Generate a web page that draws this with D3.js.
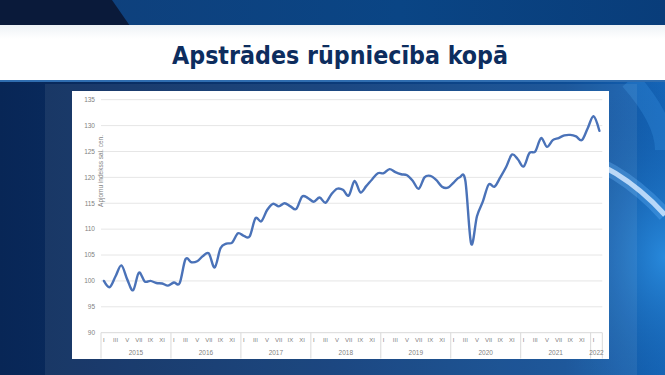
<!DOCTYPE html>
<html><head><meta charset="utf-8">
<script src="https://cdn.jsdelivr.net/npm/d3@7"></script>
<style>html,body{margin:0;padding:0;background:#0a2f66;}svg{display:block;}</style>
</head><body>
<svg id="c" width="665" height="375"></svg>
<script>
const title = "Apstrādes rūpniecība kopā";
const yAxisTitle = "Apjomu indekss sal. cen.";
const years = ["2015","2016","2017","2018","2019","2020","2021","2022"];
const monthNames = ["I","II","III","IV","V","VI","VII","VIII","IX","X","XI","XII"];
const yTicks = [90,95,100,105,110,115,120,125,130,135];
const values = [
  100.0, 98.8, 100.9, 103.0, 100.3, 98.2, 101.6, 99.9, 100.0, 99.6, 99.5, 99.1,
  99.7, 99.6, 104.2, 103.6, 103.8, 104.8, 105.3, 102.6, 106.3, 107.2, 107.4, 109.2,
  108.7, 108.6, 112.1, 111.5, 113.7, 114.9, 114.4, 115.0, 114.4, 113.9, 116.3, 116.0,
  115.3, 116.1, 115.1, 116.7, 117.8, 117.6, 116.5, 119.3, 117.1, 118.3, 119.6, 120.8,
  120.8, 121.6, 121.0, 120.6, 120.4, 119.3, 117.8, 120.0, 120.3, 119.5, 118.2, 118.0,
  119.0, 120.0, 119.4, 107.2, 112.5, 115.3, 118.6, 118.2, 120.0, 122.0, 124.4, 123.5,
  122.1, 124.7, 125.0, 127.6, 125.9, 127.2, 127.6, 128.1, 128.2, 127.9, 127.2, 129.5,
  131.8, 129.0
];

const svg = d3.select("#c");
const defs = svg.append("defs");

// ---------- background ----------
const bgGrad = defs.append("linearGradient").attr("id","bg").attr("x1",0).attr("x2",1).attr("y1",0).attr("y2",0);
bgGrad.append("stop").attr("offset","0%").attr("stop-color","#082656");
bgGrad.append("stop").attr("offset","50%").attr("stop-color","#0b3a78");
bgGrad.append("stop").attr("offset","85%").attr("stop-color","#0d4c94");
bgGrad.append("stop").attr("offset","100%").attr("stop-color","#1565b8");
svg.append("rect").attr("width",665).attr("height",375).attr("fill","url(#bg)");

// top strip
const topGrad = defs.append("linearGradient").attr("id","topg").attr("x1",0).attr("x2",1).attr("y1",0).attr("y2",0);
topGrad.append("stop").attr("offset","0%").attr("stop-color","#103f7a");
topGrad.append("stop").attr("offset","60%").attr("stop-color","#0a4585");
topGrad.append("stop").attr("offset","100%").attr("stop-color","#093d7a");
svg.append("rect").attr("x",0).attr("y",0).attr("width",665).attr("height",26).attr("fill","url(#topg)");
svg.append("path").attr("d","M0,0 L112,0 L130,26 L0,26 Z").attr("fill","#0a1a3a");

// right glow + arc
const glowGrad = defs.append("radialGradient").attr("id","glow").attr("cx","100%").attr("cy","60%").attr("r","60%");
glowGrad.append("stop").attr("offset","0%").attr("stop-color","#2a8de0").attr("stop-opacity",0.9);
glowGrad.append("stop").attr("offset","100%").attr("stop-color","#0d4c94").attr("stop-opacity",0);
svg.append("rect").attr("x",450).attr("y",80).attr("width",215).attr("height",295).attr("fill","url(#glow)");
svg.append("path").attr("d","M560,150 Q620,165 665,215").attr("fill","none")
  .attr("stroke","#5fb0f5").attr("stroke-width",14).attr("opacity",0.35);
svg.append("path").attr("d","M560,150 Q620,165 665,215").attr("fill","none")
  .attr("stroke","#cfe6ff").attr("stroke-width",5).attr("opacity",0.85);
svg.append("path").attr("d","M630,80 Q665,120 665,150").attr("fill","none")
  .attr("stroke","#2f86d6").attr("stroke-width",20).attr("opacity",0.4);

// frame behind panel
svg.append("rect").attr("x",45).attr("y",84).attr("width",592).attr("height",291)
  .attr("fill","#ffffff").attr("opacity",0.07);

// title band
const bandGrad = defs.append("linearGradient").attr("id","band").attr("x1",0).attr("x2",0).attr("y1",0).attr("y2",1);
bandGrad.append("stop").attr("offset","0%").attr("stop-color","#eef2f6");
bandGrad.append("stop").attr("offset","25%").attr("stop-color","#ffffff");
bandGrad.append("stop").attr("offset","100%").attr("stop-color","#ffffff");
svg.append("rect").attr("x",0).attr("y",25).attr("width",665).attr("height",55).attr("fill","url(#band)");
svg.append("rect").attr("x",0).attr("y",80).attr("width",665).attr("height",2).attr("fill","#2f6db0");

svg.append("text").attr("x",340).attr("y",64).attr("text-anchor","middle")
  .attr("font-family","'DejaVu Sans Condensed','DejaVu Sans',sans-serif").attr("font-weight","bold")
  .attr("font-size",25).attr("fill","#0d2d5e")
  .attr("textLength",336).attr("lengthAdjust","spacingAndGlyphs")
  .text(title);

// ---------- chart panel ----------
svg.append("rect").attr("x",72).attr("y",91).attr("width",537).attr("height",268).attr("fill","#ffffff");

const x = d3.scaleBand().domain(d3.range(values.length)).range([101,602.3]).padding(0);
const y = d3.scaleLinear().domain([90,135]).range([332.7,99.7]);
const cx = i => x(i) + x.bandwidth()/2;

const g = svg.append("g");
// gridlines
g.selectAll("line.grid").data(yTicks).join("line")
  .attr("x1",101).attr("x2",602.3)
  .attr("y1",d=>y(d)).attr("y2",d=>y(d))
  .attr("stroke",d=>d===90?"#d9d9d9":"#e6e6e6").attr("stroke-width",1);

// y tick labels
g.selectAll("text.yt").data(yTicks).join("text")
  .attr("x",95).attr("y",d=>y(d)).attr("dy","0.35em").attr("text-anchor","end")
  .attr("font-family","'Liberation Sans',Arial,sans-serif").attr("font-size",6.5)
  .attr("fill","#7f7f7f").text(d=>d);

// y axis title
g.append("text").attr("transform",`translate(103,171) rotate(-90)`)
  .attr("text-anchor","middle")
  .attr("font-family","'Liberation Sans',Arial,sans-serif").attr("font-size",6.5)
  .attr("fill","#7f7f7f").text(yAxisTitle);

// x axis: month labels
const axisY = y(90);
g.selectAll("text.mt").data(values.map((v,i)=>i).filter(i=>i%12%2===0)).join("text")
  .attr("x",i=>cx(i)).attr("y",axisY+9.5).attr("text-anchor","middle")
  .attr("font-family","'Liberation Sans',Arial,sans-serif").attr("font-size",6)
  .attr("fill","#7f7f7f").text(i=>monthNames[i%12]);

// year separators and labels
const yearStarts = years.map((yr,k)=>k*12);
const sepX = yearStarts.map(i=>x(i)).concat([x.range()[1]]);
g.selectAll("line.sep").data(sepX).join("line")
  .attr("x1",d=>d).attr("x2",d=>d).attr("y1",axisY).attr("y2",358.5)
  .attr("stroke","#d9d9d9").attr("stroke-width",1);
g.selectAll("text.yr").data(years).join("text")
  .attr("x",(d,k)=>(sepX[k]+sepX[k+1])/2).attr("y",axisY+22.5).attr("text-anchor","middle")
  .attr("font-family","'Liberation Sans',Arial,sans-serif").attr("font-size",6.5)
  .attr("fill","#7f7f7f").text(d=>d);

// line
const line = d3.line().x((d,i)=>cx(i)).y(d=>y(d)).curve(d3.curveCatmullRom.alpha(0));
g.append("path").datum(values).attr("d",line).attr("fill","none")
  .attr("stroke","#4a72b8").attr("stroke-width",2.4).attr("stroke-linejoin","round").attr("stroke-linecap","round");
</script>
</body></html>
